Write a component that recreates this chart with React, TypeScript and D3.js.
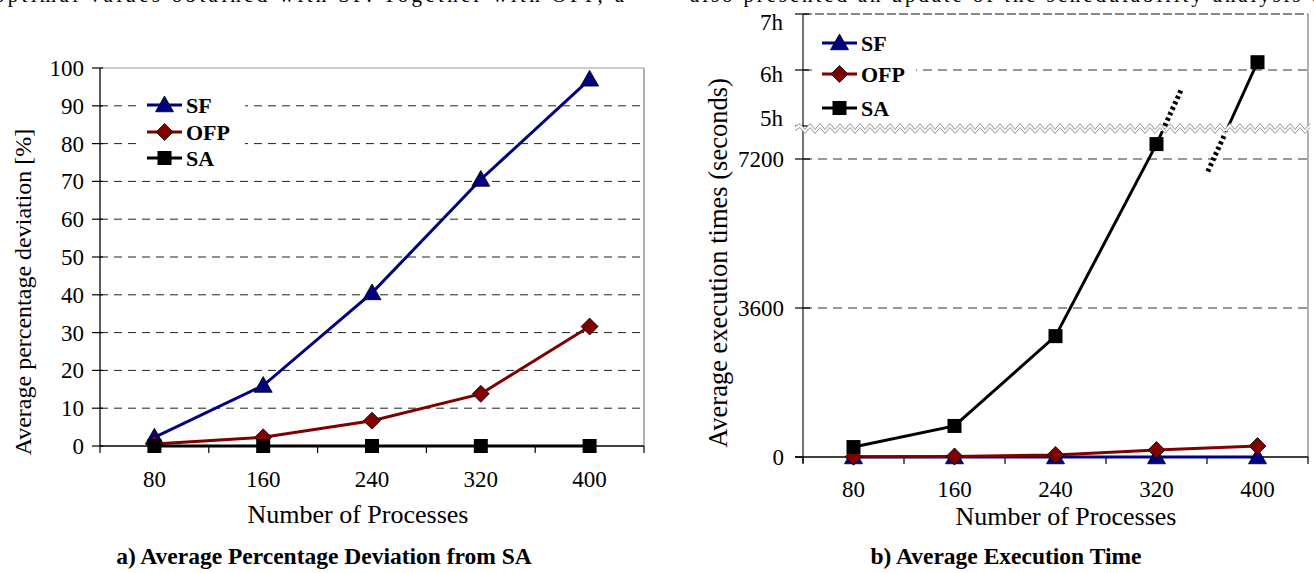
import React from "react";
import * as d3 from "d3";

const categories = ["80", "160", "240", "320", "400"];
const devSF = [2.3, 16, 40.5, 70.5, 97];
const devOFP = [0.5, 2.3, 6.7, 13.8, 31.6];
const devSA = [0, 0, 0, 0, 0];
const timeSF = [0, 0, 0, 0, 0];
const timeOFP = [5, 10, 50, 170, 265];
const timeSA = [240, 750, 2920, 7560, 22100];
const leftTicks = [0, 10, 20, 30, 40, 50, 60, 70, 80, 90, 100];
const rightLowTicks = [0, 3600, 7200];
const rightHighTicks = [18000, 21600, 25200];
const rightHighLabels = ["5h", "6h", "7h"];
const seriesNames = ["SF", "OFP", "SA"];

const FONT = "Liberation Serif, DejaVu Serif, serif";
const COLORS = ["#000080", "#800000", "#000000"];

function Marker({ kind, x, y }: { kind: number; x: number; y: number }) {
  if (kind === 0) {
    const s = 9;
    return (
      <path
        d={`M${x},${y - s}L${x + s},${y + s * 0.75}L${x - s},${y + s * 0.75}Z`}
        fill="#000080"
        stroke="#000"
        strokeWidth={0.8}
      />
    );
  }
  if (kind === 1) {
    const s = 8.5;
    return (
      <path
        d={`M${x},${y - s}L${x + s},${y}L${x},${y + s}L${x - s},${y}Z`}
        fill="#800000"
        stroke="#000"
        strokeWidth={0.8}
      />
    );
  }
  const s = 7;
  return <rect x={x - s} y={y - s} width={2 * s} height={2 * s} fill="#000" />;
}

function Legend({ x, ys }: { x: number; ys: number[] }) {
  return (
    <g>
      {seriesNames.map((n, i) => (
        <g key={n}>
          <line x1={x} x2={x + 35} y1={ys[i]} y2={ys[i]} stroke={COLORS[i]} strokeWidth={3} />
          <Marker kind={i} x={x + 17.5} y={ys[i]} />
          <text x={x + 39} y={ys[i] + 8} fontFamily={FONT} fontWeight="bold" fontSize={22} fill="#000">
            {n}
          </text>
        </g>
      ))}
    </g>
  );
}

function zigzag(x0: number, x1: number, y: number, amp: number, period: number) {
  let d = `M${x0},${y}`;
  let up = true;
  for (let x = x0 + period / 2; x <= x1 + 0.01; x += period / 2) {
    d += `L${x},${y + (up ? -amp : amp)}`;
    up = !up;
  }
  return d;
}

export default function App() {
  const lx = d3.scaleBand<string>().domain(categories).range([100, 644]);
  const ly = d3.scaleLinear().domain([0, 100]).range([446, 68]);
  const lcx = (c: string) => (lx(c) as number) + lx.bandwidth() / 2;
  const leftSeries = [devSF, devOFP, devSA];

  const rx = d3.scaleBand<string>().domain(categories).range([803, 1308]);
  const rcx = (c: string) => (rx(c) as number) + rx.bandwidth() / 2;
  const ryLow = d3.scaleLinear().domain([0, 7200]).range([457, 159]);
  const ryHigh = d3.scaleLinear().domain([18000, 25200]).range([126, 14]);
  const breakY = 128;
  const lowMax = ryLow.invert(breakY);
  const ry = (v: number) => (v <= lowMax ? ryLow(v) : ryHigh(v));
  const rightSeries = [timeSF, timeOFP, timeSA];

  const line = d3
    .line<[number, number]>()
    .x((d) => d[0])
    .y((d) => d[1]);

  const saLowIdx = timeSA.map((v, i) => i).filter((i) => timeSA[i] <= lowMax);
  const saHighIdx = timeSA.map((v, i) => i).filter((i) => timeSA[i] > lowMax);
  const stubSlope = 2.2;
  const lastLow = saLowIdx[saLowIdx.length - 1];
  const p320: [number, number] = [rcx(categories[lastLow]), ry(timeSA[lastLow])];
  const firstHigh = saHighIdx[0];
  const p400: [number, number] = [rcx(categories[firstHigh]), ry(timeSA[firstHigh])];
  const atY = (p: [number, number], y: number): [number, number] => [p[0] + (p[1] - y) / stubSlope, y];

  const hourLabelDy = [0, 12, 16];

  return (
    <svg
      width={1314}
      height={573}
      style={{ position: "absolute", left: 0, top: 0, background: "#fff" }}
      fontFamily={FONT}
    >
      <rect width={1314} height={573} fill="#fff" />
      <text x={-6} y={2} fontSize={21} textLength={630} lengthAdjust="spacing" fill="#000">
        optimal values obtained with SF. Together with OFP, a
      </text>
      <text x={690} y={2} fontSize={21} textLength={632} lengthAdjust="spacing" fill="#000">
        also presented an update of the schedulability analysis o
      </text>

      {/* ===== Left chart ===== */}
      <g>
        {leftTicks.slice(1, -1).map((t) => (
          <line key={t} x1={100} x2={644} y1={ly(t)} y2={ly(t)} stroke="#222" strokeWidth={1} strokeDasharray="8,6" />
        ))}
        <line x1={100} x2={644} y1={ly(100)} y2={ly(100)} stroke="#999" strokeWidth={1.2} />
        <line x1={644} x2={644} y1={ly(100)} y2={ly(0)} stroke="#999" strokeWidth={1.5} />
        <line x1={100} x2={100} y1={ly(100)} y2={ly(0)} stroke="#000" strokeWidth={1.3} />
        <line x1={100} x2={644} y1={ly(0)} y2={ly(0)} stroke="#000" strokeWidth={1.3} />
        {leftTicks.map((t) => (
          <g key={t}>
            <line x1={92} x2={103} y1={ly(t)} y2={ly(t)} stroke="#000" strokeWidth={1.2} />
            <text x={84} y={ly(t) + 8} textAnchor="end" fontSize={23} fill="#000">
              {t}
            </text>
          </g>
        ))}
        {d3.range(categories.length + 1).map((i) => {
          const x = 100 + i * lx.step();
          return <line key={i} x1={x} x2={x} y1={ly(0)} y2={ly(0) + 7} stroke="#000" strokeWidth={1.2} />;
        })}
        {categories.map((c) => (
          <text key={c} x={lcx(c)} y={487} textAnchor="middle" fontSize={23} fill="#000">
            {c}
          </text>
        ))}
        <text x={358} y={523} textAnchor="middle" fontSize={26} fill="#000">
          Number of Processes
        </text>
        <text transform={`translate(31,292) rotate(-90)`} textAnchor="middle" fontSize={24} fill="#000">
          Average percentage deviation [%]
        </text>
        <text x={324} y={564} textAnchor="middle" fontSize={23.5} fontWeight="bold" fill="#000">
          a) Average Percentage Deviation from SA
        </text>
        {leftSeries.map((s, si) => (
          <g key={si}>
            <path
              d={line(s.map((v, i) => [lcx(categories[i]), ly(v)]) as [number, number][]) as string}
              fill="none"
              stroke={COLORS[si]}
              strokeWidth={3}
            />
            {s.map((v, i) => (
              <Marker key={i} kind={si} x={lcx(categories[i])} y={ly(v)} />
            ))}
          </g>
        ))}
        <rect x={138} y={88} width={107} height={84} fill="#fff" />
        <Legend x={147} ys={[105, 132, 158]} />
      </g>

      {/* ===== Right chart ===== */}
      <g>
        {[3600, 7200].map((t) => (
          <line key={t} x1={803} x2={1308} y1={ryLow(t)} y2={ryLow(t)} stroke="#777" strokeWidth={1.3} strokeDasharray="9,6" />
        ))}
        <line x1={803} x2={1308} y1={ryHigh(21600)} y2={ryHigh(21600)} stroke="#777" strokeWidth={1.3} strokeDasharray="9,6" />
        <line x1={803} x2={1308} y1={ryHigh(25200)} y2={ryHigh(25200)} stroke="#888" strokeWidth={2} strokeDasharray="9,3" />
        <line x1={1308} x2={1308} y1={ryHigh(25200)} y2={ryLow(0)} stroke="#999" strokeWidth={1.5} />
        <line x1={803} x2={803} y1={ryHigh(25200)} y2={ryLow(0) + 6} stroke="#444" strokeWidth={1.5} />
        <line x1={795} x2={1308} y1={ryLow(0)} y2={ryLow(0)} stroke="#000" strokeWidth={1.3} />
        {rightLowTicks.map((t) => (
          <g key={t}>
            <line x1={795} x2={t === 0 ? 803 : 810} y1={ryLow(t)} y2={ryLow(t)} stroke="#000" strokeWidth={1.2} />
            <text x={784} y={ryLow(t) + 8} textAnchor="end" fontSize={23} fill="#000">
              {t}
            </text>
          </g>
        ))}
        {rightHighTicks.map((t, i) => (
          <g key={t}>
            <line x1={795} x2={809} y1={ryHigh(t)} y2={ryHigh(t)} stroke="#000" strokeWidth={1.2} />
            <text x={783} y={ryHigh(t) + hourLabelDy[i]} textAnchor="end" fontSize={23} fill="#000">
              {rightHighLabels[i]}
            </text>
          </g>
        ))}
        {d3.range(categories.length + 1).map((i) => {
          const x = 803 + i * rx.step();
          return <line key={i} x1={x} x2={x} y1={ryLow(0)} y2={ryLow(0) + 7} stroke="#000" strokeWidth={1.2} />;
        })}
        {categories.map((c) => (
          <text key={c} x={rcx(c)} y={497} textAnchor="middle" fontSize={23} fill="#000">
            {c}
          </text>
        ))}
        <text x={1066} y={525} textAnchor="middle" fontSize={26} fill="#000">
          Number of Processes
        </text>
        <text transform={`translate(727,263) rotate(-90)`} textAnchor="middle" fontSize={26.5} fill="#000">
          Average execution times (seconds)
        </text>
        <text x={1006} y={564} textAnchor="middle" fontSize={23.5} fontWeight="bold" fill="#000">
          b) Average Execution Time
        </text>

        {rightSeries.slice(0, 2).map((s, si) => (
          <g key={si}>
            <path
              d={line(s.map((v, i) => [rcx(categories[i]), ry(v)]) as [number, number][]) as string}
              fill="none"
              stroke={COLORS[si]}
              strokeWidth={3}
            />
            {s.map((v, i) => (
              <Marker key={i} kind={si} x={rcx(categories[i])} y={ry(v)} />
            ))}
          </g>
        ))}
        <path
          d={line(saLowIdx.map((i) => [rcx(categories[i]), ry(timeSA[i])]) as [number, number][]) as string}
          fill="none"
          stroke="#000"
          strokeWidth={3}
        />
        <path d={line([p320, atY(p320, breakY)]) as string} fill="none" stroke="#000" strokeWidth={3} />
        <path d={line([atY(p320, breakY - 2), atY(p320, 88)]) as string} fill="none" stroke="#000" strokeWidth={5} strokeDasharray="3,3" />
        <path d={line([p400, atY(p400, breakY + 4)]) as string} fill="none" stroke="#000" strokeWidth={3} />
        <path d={line([atY(p400, breakY + 8), atY(p400, 173)]) as string} fill="none" stroke="#000" strokeWidth={5} strokeDasharray="3,3" />
        {timeSA.map((v, i) => (
          <Marker key={i} kind={2} x={rcx(categories[i])} y={ry(v)} />
        ))}

        <path d={zigzag(795, 1312, breakY - 1.5, 3, 10) + "L1312,131L795,131Z"} fill="#fff" stroke="none" />
        <path d={zigzag(795, 1312, breakY - 1.5, 3, 10)} fill="none" stroke="#999" strokeWidth={1} />
        <path d={zigzag(795, 1312, breakY + 2.5, 3, 10)} fill="none" stroke="#999" strokeWidth={1} />

        <rect x={812} y={28} width={104} height={94} fill="#fff" />
        <Legend x={822} ys={[43, 74, 108]} />
      </g>
    </svg>
  );
}
